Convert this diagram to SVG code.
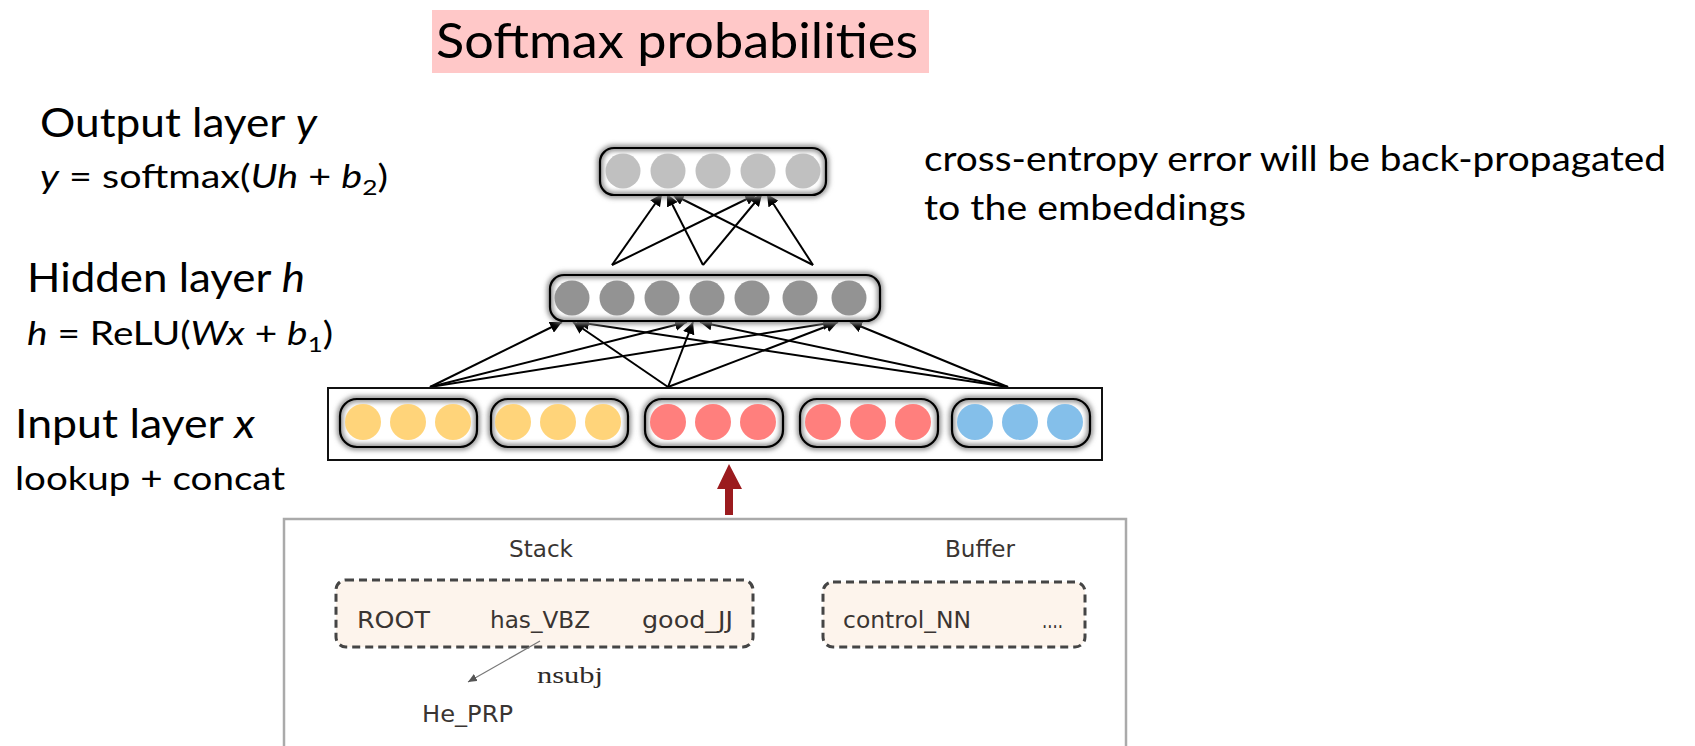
<svg xmlns="http://www.w3.org/2000/svg" width="1695" height="746" viewBox="0 0 1695 746">
  <defs>
    <style>
      .calibri { font-family: Lato, "Open Sans", "Liberation Sans", sans-serif; fill: #000; }
      .big { font-size: 40px; }
      .formula { font-size: 33px; }
      .note { font-size: 35px; }
      .cm { font-family: "DejaVu Sans", "Liberation Sans", sans-serif; font-size: 23px; fill: #3a3532; }
      .edge { stroke: #000; stroke-width: 2; fill: none; marker-end: url(#head); }
      .pill-shadow { fill: none; stroke: #8a8a8a; stroke-width: 6; filter: url(#soft); }
      .pill-line { fill: none; stroke: #000; stroke-width: 2.2; }
      .out-dot { fill: #c0c0c0; }
      .hid-dot { fill: #939393; }
      .yel { fill: #ffd47a; }
      .red { fill: #ff7f7d; }
      .blue { fill: #84bfea; }
      .dashbox { fill: #fdf4ec; stroke: #454545; stroke-width: 3; stroke-dasharray: 8 5; }
    </style>
    <filter id="soft" x="-10%" y="-40%" width="120%" height="180%">
      <feGaussianBlur stdDeviation="2.5"/>
    </filter>
    <marker id="head" markerUnits="userSpaceOnUse" markerWidth="14" markerHeight="12" refX="12" refY="6" orient="auto">
      <path d="M0,0 L12,6 L0,12 Z" fill="#000"/>
    </marker>
    <marker id="thin" markerUnits="userSpaceOnUse" markerWidth="10" markerHeight="8" refX="9" refY="4" orient="auto">
      <path d="M0,0 L9,4 L0,8 Z" fill="#555"/>
    </marker>
  </defs>

  <rect width="1695" height="746" fill="#fff"/>

  <!-- title banner -->
  <g id="title">
    <rect x="432" y="10" width="497" height="63" fill="#ffc8c8"/>
    <text class="calibri" x="436" y="58" font-size="49" textLength="482" lengthAdjust="spacingAndGlyphs">Softmax probabilities</text>
  </g>

  <!-- layer labels -->
  <g id="label-output">
    <text class="calibri big" x="40" y="137" textLength="277" lengthAdjust="spacingAndGlyphs">Output layer <tspan font-style="italic">y</tspan></text>
    <text class="calibri formula" x="40" y="188" textLength="348" lengthAdjust="spacingAndGlyphs"><tspan font-style="italic">y</tspan> = softmax(<tspan font-style="italic">Uh</tspan> + <tspan font-style="italic">b</tspan><tspan font-size="22" dy="7">2</tspan><tspan dy="-7">)</tspan></text>
  </g>
  <g id="label-hidden">
    <text class="calibri big" x="27" y="292" textLength="278" lengthAdjust="spacingAndGlyphs">Hidden layer <tspan font-style="italic">h</tspan></text>
    <text class="calibri formula" x="27" y="345" textLength="306" lengthAdjust="spacingAndGlyphs"><tspan font-style="italic">h</tspan> = ReLU(<tspan font-style="italic">Wx</tspan> + <tspan font-style="italic">b</tspan><tspan font-size="22" dy="7">1</tspan><tspan dy="-7">)</tspan></text>
  </g>
  <g id="label-input">
    <text class="calibri big" x="15" y="438" textLength="240" lengthAdjust="spacingAndGlyphs">Input layer <tspan font-style="italic">x</tspan></text>
    <text class="calibri formula" x="15" y="490" textLength="270" lengthAdjust="spacingAndGlyphs">lookup + concat</text>
  </g>

  <g id="note">
    <text class="calibri note" x="924" y="171" textLength="742" lengthAdjust="spacingAndGlyphs">cross-entropy error will be back-propagated</text>
    <text class="calibri note" x="924" y="220" textLength="322" lengthAdjust="spacingAndGlyphs">to the embeddings</text>
  </g>

  <!-- weight connections -->
  <g id="connectors">
    <!-- hidden -> output -->
    <line class="edge" x1="612" y1="265" x2="662" y2="194"/>
    <line class="edge" x1="612" y1="265" x2="757" y2="194"/>
    <line class="edge" x1="703" y1="265" x2="667" y2="194"/>
    <line class="edge" x1="703" y1="265" x2="762" y2="194"/>
    <line class="edge" x1="813" y1="265" x2="672" y2="194"/>
    <line class="edge" x1="813" y1="265" x2="767" y2="194"/>
    <!-- input -> hidden -->
    <line class="edge" x1="430" y1="387" x2="562" y2="322"/>
    <line class="edge" x1="430" y1="387" x2="687" y2="322"/>
    <line class="edge" x1="430" y1="387" x2="835" y2="322"/>
    <line class="edge" x1="668" y1="387" x2="573" y2="322"/>
    <line class="edge" x1="668" y1="387" x2="693" y2="322"/>
    <line class="edge" x1="668" y1="387" x2="838" y2="322"/>
    <line class="edge" x1="1008" y1="387" x2="577" y2="322"/>
    <line class="edge" x1="1008" y1="387" x2="700" y2="322"/>
    <line class="edge" x1="1008" y1="387" x2="850" y2="322"/>
    <!-- configuration -> input -->
    <path d="M725,515 L725,489 L717,489 L729,464 L742,489 L733,489 L733,515 Z" fill="#9b1b1e"/>
  </g>

  <!-- output layer -->
  <g id="output-layer">
    <rect x="600" y="148" width="226" height="47" rx="14" fill="#fff"/>
    <rect class="pill-shadow" x="600" y="148" width="226" height="47" rx="14"/>
    <circle class="out-dot" cx="623" cy="171" r="17.5"/>
    <circle class="out-dot" cx="668" cy="171" r="17.5"/>
    <circle class="out-dot" cx="713" cy="171" r="17.5"/>
    <circle class="out-dot" cx="758" cy="171" r="17.5"/>
    <circle class="out-dot" cx="803" cy="171" r="17.5"/>
    <rect class="pill-line" x="600" y="148" width="226" height="47" rx="14"/>
  </g>

  <!-- hidden layer -->
  <g id="hidden-layer">
    <rect x="550" y="275" width="330" height="46" rx="14" fill="#fff"/>
    <rect class="pill-shadow" x="550" y="275" width="330" height="46" rx="14"/>
    <circle class="hid-dot" cx="572" cy="298" r="17.5"/>
    <circle class="hid-dot" cx="617" cy="298" r="17.5"/>
    <circle class="hid-dot" cx="662" cy="298" r="17.5"/>
    <circle class="hid-dot" cx="707" cy="298" r="17.5"/>
    <circle class="hid-dot" cx="752" cy="298" r="17.5"/>
    <circle class="hid-dot" cx="800" cy="298" r="17.5"/>
    <circle class="hid-dot" cx="849" cy="298" r="17.5"/>
    <rect class="pill-line" x="550" y="275" width="330" height="46" rx="14"/>
  </g>

  <!-- input layer: five embedding lookups -->
  <g id="input-layer">
    <rect x="328" y="388" width="774" height="72" fill="#fff" stroke="#111" stroke-width="2"/>
    <g id="emb-1">
      <rect class="pill-shadow" x="340" y="399" width="137" height="48" rx="17"/>
      <circle class="yel" cx="363" cy="422" r="18"/>
      <circle class="yel" cx="408" cy="422" r="18"/>
      <circle class="yel" cx="453" cy="422" r="18"/>
      <rect class="pill-line" x="340" y="399" width="137" height="48" rx="17"/>
    </g>
    <g id="emb-2">
      <rect class="pill-shadow" x="491" y="399" width="137" height="48" rx="17"/>
      <circle class="yel" cx="513" cy="422" r="18"/>
      <circle class="yel" cx="558" cy="422" r="18"/>
      <circle class="yel" cx="603" cy="422" r="18"/>
      <rect class="pill-line" x="491" y="399" width="137" height="48" rx="17"/>
    </g>
    <g id="emb-3">
      <rect class="pill-shadow" x="645" y="399" width="138" height="48" rx="17"/>
      <circle class="red" cx="668" cy="422" r="18"/>
      <circle class="red" cx="713" cy="422" r="18"/>
      <circle class="red" cx="758" cy="422" r="18"/>
      <rect class="pill-line" x="645" y="399" width="138" height="48" rx="17"/>
    </g>
    <g id="emb-4">
      <rect class="pill-shadow" x="800" y="399" width="138" height="48" rx="17"/>
      <circle class="red" cx="823" cy="422" r="18"/>
      <circle class="red" cx="868" cy="422" r="18"/>
      <circle class="red" cx="913" cy="422" r="18"/>
      <rect class="pill-line" x="800" y="399" width="138" height="48" rx="17"/>
    </g>
    <g id="emb-5">
      <rect class="pill-shadow" x="952" y="399" width="138" height="48" rx="17"/>
      <circle class="blue" cx="975" cy="422" r="18"/>
      <circle class="blue" cx="1020" cy="422" r="18"/>
      <circle class="blue" cx="1065" cy="422" r="18"/>
      <rect class="pill-line" x="952" y="399" width="138" height="48" rx="17"/>
    </g>
  </g>

  <!-- parser configuration -->
  <g id="configuration">
    <rect x="284" y="519" width="842" height="240" fill="#fff" stroke="#aaa" stroke-width="2.5"/>
    <text class="cm" x="509" y="557" textLength="64" lengthAdjust="spacingAndGlyphs">Stack</text>
    <text class="cm" x="945" y="557" textLength="70" lengthAdjust="spacingAndGlyphs">Buffer</text>
  </g>
  <g id="stack">
    <rect class="dashbox" x="336" y="580" width="417" height="67" rx="10"/>
    <text class="cm" x="357" y="628" textLength="73" lengthAdjust="spacingAndGlyphs">ROOT</text>
    <text class="cm" x="490" y="628" textLength="100" lengthAdjust="spacingAndGlyphs">has_VBZ</text>
    <text class="cm" x="642" y="628" textLength="91" lengthAdjust="spacingAndGlyphs">good_JJ</text>
  </g>
  <g id="buffer">
    <rect class="dashbox" x="823" y="582" width="262" height="65" rx="10"/>
    <text class="cm" x="843" y="628" textLength="128" lengthAdjust="spacingAndGlyphs">control_NN</text>
    <text class="cm" x="1042" y="628" font-size="16" textLength="21" lengthAdjust="spacingAndGlyphs">....</text>
  </g>
  <g id="dependent">
    <line x1="540" y1="641" x2="468" y2="682" stroke="#777" stroke-width="1.2" marker-end="url(#thin)"/>
    <text x="537" y="683" font-family="Liberation Serif, serif" font-size="24" fill="#2e2a28" textLength="66" lengthAdjust="spacingAndGlyphs">nsubj</text>
    <text class="cm" x="422" y="722" textLength="91" lengthAdjust="spacingAndGlyphs">He_PRP</text>
  </g>
</svg>
